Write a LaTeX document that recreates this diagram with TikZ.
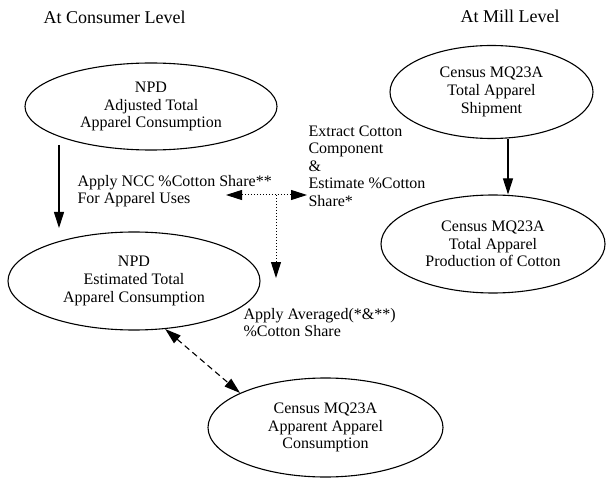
\documentclass[tikz,border=0pt]{standalone}
\usepackage{fontspec}
\setmainfont{Liberation Serif}
\usetikzlibrary{shapes, arrows.meta}

\begin{document}
\begin{tikzpicture}[x=1pt, y=-1pt, line width=1.1pt,
    >={Triangle[length=16pt,width=10pt]},
    oval/.style={ellipse, draw, inner sep=0pt, align=center, font=\fontsize{16}{17.6}\selectfont},
    remark/.style={anchor=west, inner sep=0pt, align=left, font=\fontsize{16}{17.6}\selectfont},
    title/.style={anchor=west, inner sep=0pt, font=\fontsize{18}{20}\selectfont}]
    \useasboundingbox (0,0) rectangle (607,478);

    \node (cons) [title] at (43,17) {At Consumer Level};
    \node (mill) [title] at (460,16) {At Mill Level};

    \node (adj) [oval, minimum width=252pt, minimum height=87pt] at (151,106.5) {NPD\\Adjusted Total\\Apparel Consumption};
    \node (est) [oval, minimum width=252pt, minimum height=98pt] at (134,281) {NPD\\Estimated Total\\Apparel Consumption};
    \node (ship) [oval, minimum width=203pt, minimum height=93pt] at (491.5,92) {Census MQ23A\\Total Apparel\\Shipment};
    \node (prod) [oval, minimum width=224pt, minimum height=98pt] at (493,244) {Census MQ23A\\Total Apparel\\Production of Cotton};
    \node (app) [oval, minimum width=235pt, minimum height=99pt] at (325.5,427.5) {Census MQ23A\\Apparent Apparel\\Consumption};

    \node (ncc) [remark] at (77,191) {Apply NCC \%Cotton Share**\\For Apparel Uses};
    \node (extr) [remark] at (308,166) {Extract Cotton\\Component\\\&\\Estimate \%Cotton\\Share*};
    \node (avg) [remark] at (243,322.5) {Apply Averaged(*\&**)\\\%Cotton Share};

    \coordinate (a1) at (59,145);
    \coordinate (a2) at (59,228);
    \draw [->] (a1) -- (a2);
    \draw [->] ([xshift=16.5pt]ship.south) -- ([xshift=15pt]prod.north);

    \coordinate (j) at (276,195);
    \coordinate (l) at (226,195);
    \coordinate (r) at (307,195);
    \coordinate (d) at (276,278);
    \draw [<->, dotted, line width=1pt] (l) -- (r);
    \draw [->, dotted, line width=1pt] (j) -- (d);

    \draw [<->, dash pattern=on 6pt off 4pt] (est.-57) -- (app.158);
\end{tikzpicture}
\end{document}
